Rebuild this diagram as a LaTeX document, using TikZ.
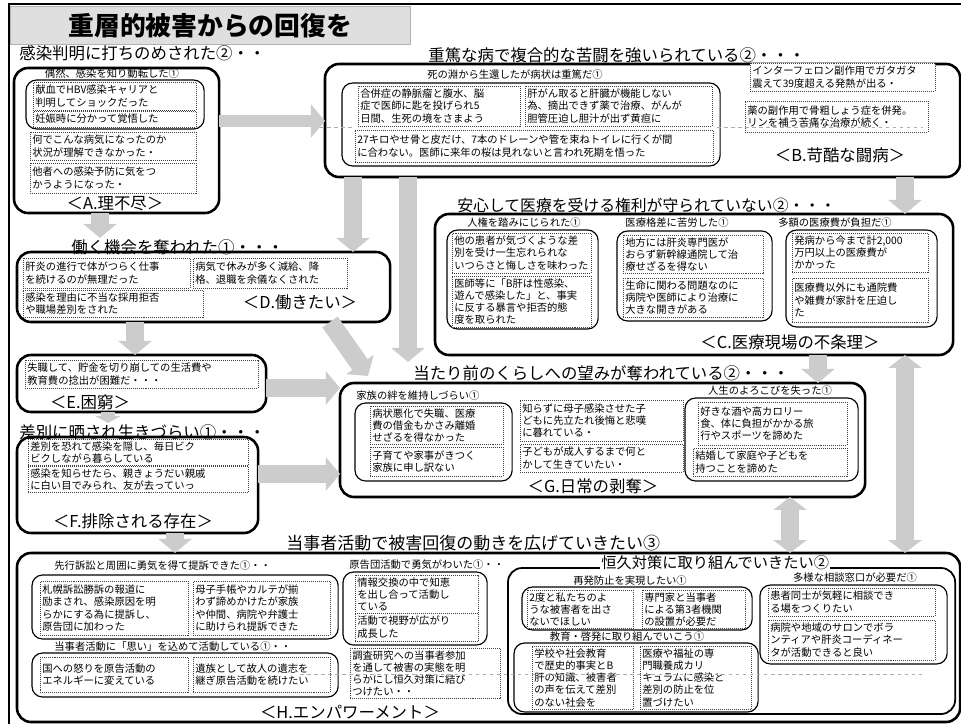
\documentclass[tikz,border=0pt]{standalone}
\usepackage{fontspec}
\setmainfont{Noto Sans CJK JP}
\usetikzlibrary{arrows.meta}

\newcommand{\txtsize}{\fontsize{8.8}{10.5}\selectfont}
\newcommand{\hdsize}{\fontsize{14}{16}\selectfont}
\newcommand{\lbsize}{\fontsize{14}{16}\selectfont}

% box from (x1,y1) to (x2,y2), pixel units
\newcommand{\pbox}[7]{%
  \pgfmathsetlengthmacro{\pbw}{(#5-#3)*0.03cm}%
  \pgfmathsetlengthmacro{\pbh}{(#6-#4)*0.03cm}%
  \pgfmathsetlengthmacro{\pbt}{(#5-#3)*0.03cm-4pt}%
  \node[#1, anchor=north west, minimum width=\pbw, minimum height=\pbh, text width=\pbt] (#2) at (#3,#4) {#7};}

\begin{document}
\begin{tikzpicture}[x=0.03cm, y=-0.03cm,
  bigbox/.style={draw, line width=2.2pt, rounded corners=12pt, fill=white, outer sep=0pt},
  kbox/.style={draw, line width=1.5pt, rounded corners=12pt, outer sep=0pt},
  inbox/.style={draw, line width=1pt, rounded corners=9pt, outer sep=0pt},
  dotbox/.style={draw=black!75, densely dotted, line width=0.7pt, fill=white, font=\txtsize, align=left, inner sep=2pt, outer sep=0pt},
  titlebox/.style={draw=gray!60, fill=gray!25, align=center, inner sep=0pt, font=\fontsize{22}{24}\selectfont\bfseries},
  headtxt/.style={anchor=west, font=\hdsize, inner sep=1pt},
  subtxt/.style={font=\txtsize, inner sep=1pt},
  tagtxt/.style={font=\lbsize, inner sep=1pt},
  blkarrow/.style={gray!40, line width=16pt, -{Triangle[length=12pt, width=28pt]}},
  blkboth/.style={gray!40, line width=16pt, {Triangle[length=11pt, width=28pt]}-{Triangle[length=11pt, width=28pt]}},
  ghost/.style={gray!65, dashed, line width=0.5pt}]

\useasboundingbox (0,0) rectangle (961,724);

% frame and title
\draw[line width=1pt] (9,724) -- (9,4) -- (961,4);
\pbox{titlebox}{title}{10}{6}{410}{44}{重層的被害からの回復を}

% big frames
\pbox{bigbox}{boxA}{14}{68}{216}{213}{}
\pbox{bigbox}{boxB}{325}{64}{957}{177}{}
\pbox{bigbox}{boxC}{435}{214}{950}{355}{}
\pbox{bigbox}{boxD}{17}{252}{387}{322}{}
\pbox{bigbox}{boxE}{17}{355}{263}{412}{}
\pbox{bigbox}{boxF}{17}{437}{255}{533}{}
\pbox{bigbox}{boxG}{340}{383}{862}{497}{}
\pbox{bigbox}{boxH}{17}{553}{957}{722}{}

% rounded groups
\pbox{inbox}{inA}{26}{80}{201}{129}{}
\pbox{inbox}{inB}{342}{83}{717}{166}{}
\pbox{inbox}{inC1}{447}{230}{595}{329}{}
\pbox{inbox}{inC2}{617}{231}{769}{321}{}
\pbox{inbox}{inC3}{786}{230}{934}{327}{}
\pbox{inbox}{inG1}{355}{403}{509}{481}{}
\pbox{inbox}{inG3}{685}{398}{855}{481}{}
\pbox{inbox}{inH1}{32}{575}{335}{639}{}
\pbox{inbox}{inH2}{32}{653}{335}{697}{}
\pbox{inbox}{inH3}{343}{572}{484}{645}{}
\pbox{kbox}{boxK}{508}{568}{952}{714}{}
\pbox{inbox}{inK1}{522}{587}{749}{630}{}
\pbox{inbox}{inK2}{514}{643}{755}{712}{}
\pbox{inbox}{inK3}{760}{585}{944}{664}{}

% A
\pbox{dotbox}{a1}{33}{82}{196}{110}{献血でHBV感染キャリアと\\判明してショックだった}
\pbox{dotbox}{a2}{33}{111}{196}{127}{妊娠時に分かって覚悟した}
\pbox{dotbox}{a3}{30}{132}{196}{160}{何でこんな病気になったのか\\状況が理解できなかった・}
\pbox{dotbox}{a4}{30}{163}{196}{193}{他者への感染予防に気をつ\\かうようになった・}

% B
\pbox{dotbox}{b1}{358}{86}{520}{126}{合併症の静脈瘤と腹水、脳\\症で医師に匙を投げられ5\\日間、生死の境をさまよう}
\pbox{dotbox}{b2}{525}{86}{712}{126}{肝がん取ると肝臓が機能しない\\為、摘出できず薬で治療、がんが\\胆管圧迫し胆汁が出ず黄疸に}
\pbox{dotbox}{b3}{355}{130}{713}{162}{27キロやせ骨と皮だけ、7本のドレーンや管を束ねトイレに行くが間\\に合わない。医師に来年の桜は見れないと言われ死期を悟った}
\pbox{dotbox}{b4}{750}{63}{935}{91}{インターフェロン副作用でガタガタ\\震えて39度超える発熱が出る・}
\pbox{dotbox}{b5}{745}{101}{928}{132}{薬の副作用で骨粗しょう症を併発。\\リンを補う苦痛な治療が続く・}

% C
\pbox{dotbox}{c1}{452}{233}{591}{273}{他の患者が気づくような差\\別を受け一生忘れられな\\いつらさと悔しさを味わった}
\pbox{dotbox}{c2}{452}{276}{591}{325}{医師等に「B肝は性感染、\\遊んで感染した」と、事実\\に反する暴言や拒否的態\\度を取られた}
\pbox{dotbox}{c3}{623}{235}{763}{273}{地方には肝炎専門医が\\おらず新幹線通院して治\\療せざるを得ない}
\pbox{dotbox}{c4}{623}{278}{763}{317}{生命に関わる問題なのに\\病院や医師により治療に\\大きな開きがある}
\pbox{dotbox}{c5}{792}{233}{928}{272}{発病から今まで計2,000\\万円以上の医療費が\\かかった}
\pbox{dotbox}{c6}{792}{278}{928}{322}{医療費以外にも通院費\\や雑費が家計を圧迫し\\た}

% D, E, F
\pbox{dotbox}{d1}{23}{258}{190}{288}{肝炎の進行で体がつらく仕事\\を続けるのが無理だった}
\pbox{dotbox}{d2}{193}{258}{347}{288}{病気で休みが多く減給、降\\格、退職を余儀なくされた}
\pbox{dotbox}{d3}{23}{290}{203}{317}{感染を理由に不当な採用拒否\\や職場差別をされた}
\pbox{dotbox}{e1}{25}{360}{258}{388}{失職して、貯金を切り崩しての生活費や\\教育費の捻出が困難だ・・・}
\pbox{dotbox}{f1}{28}{439}{248}{464}{差別を恐れて感染を隠し、毎日ビク\\ビクしながら暮らしている}
\pbox{dotbox}{f2}{28}{466}{248}{491}{感染を知らせたら、親きょうだい親戚\\に白い目でみられ、友が去っていっ}

% G
\pbox{dotbox}{g1}{370}{406}{503}{444}{病状悪化で失職、医療\\費の借金もかさみ離婚\\せざるを得なかった}
\pbox{dotbox}{g2}{370}{447}{503}{476}{子育てや家事がきつく\\家族に申し訳ない}
\pbox{dotbox}{g3}{520}{400}{683}{441}{知らずに母子感染させた子\\どもに先立たれ後悔と悲嘆\\に暮れている・}
\pbox{dotbox}{g4}{520}{444}{683}{472}{子どもが成人するまで何と\\かして生きていたい・}
\pbox{dotbox}{g5}{698}{402}{847}{445}{好きな酒や高カロリー\\食、体に負担がかかる旅\\行やスポーツを諦めた}
\pbox{dotbox}{g6}{693}{448}{847}{476}{結婚して家庭や子どもを\\持つことを諦めた}

% H
\pbox{dotbox}{h1}{40}{581}{188}{635}{札幌訴訟勝訴の報道に\\励まされ、感染原因を明\\らかにする為に提訴し、\\原告団に加わった}
\pbox{dotbox}{h2}{193}{581}{330}{635}{母子手帳やカルテが揃\\わず諦めかけたが家族\\や仲間、病院や弁護士\\に助けられ提訴できた}
\pbox{dotbox}{h3}{40}{657}{188}{692}{国への怒りを原告活動の\\エネルギーに変えている}
\pbox{dotbox}{h4}{193}{657}{330}{692}{遺族として故人の遺志を\\継ぎ原告活動を続けたい}
\pbox{dotbox}{h5}{355}{575}{478}{611}{情報交換の中で知恵\\を出し合って活動し\\ている}
\pbox{dotbox}{h6}{355}{613}{478}{641}{活動で視野が広がり\\成長した}
\pbox{dotbox}{h7}{350}{648}{500}{698}{調査研究への当事者参加\\を通して被害の実態を明\\らかにし恒久対策に結び\\つけたい・・}
\pbox{dotbox}{k1}{527}{590}{633}{627}{2度と私たちのよ\\うな被害者を出さ\\ないでほしい}
\pbox{dotbox}{k2}{642}{590}{745}{627}{専門家と当事者\\による第3者機関\\の設置が必要だ}
\pbox{dotbox}{k3}{532}{646}{633}{708}{学校や社会教育\\で歴史的事実とB\\肝の知識、被害者\\の声を伝えて差別\\のない社会を}
\pbox{dotbox}{k4}{640}{646}{751}{708}{医療や福祉の専\\門職養成カリ\\キュラムに感染と\\差別の防止を位\\置づけたい}
\pbox{dotbox}{k5}{768}{588}{935}{616}{患者同士が気軽に相談でき\\る場をつくりたい}
\pbox{dotbox}{k6}{768}{620}{935}{660}{病院や地域のサロンでボラ\\ンティアや肝炎コーディネー\\タが活動できると良い}

% headings
\node[headtxt] (headA) at (18,53) {感染判明に打ちのめされた②・・};
\node[headtxt] (headB) at (427,55) {重篤な病で複合的な苦闘を強いられている②・・・};
\node[headtxt, font=\fontsize{13.5}{15}\selectfont] (headC) at (456,205) {安心して医療を受ける権利が守られていない②・・・};
\node[headtxt] (headD) at (70,247) {働く機会を奪われた①・・・};
\node[headtxt] (headF) at (18,432) {差別に晒され生きづらい①・・・};
\node[headtxt] (headG) at (412,373) {当たり前のくらしへの望みが奪われている②・・・};
\node[headtxt, font=\fontsize{14.5}{16}\selectfont] (headH) at (285,543) {当事者活動で被害回復の動きを広げていきたい③};
\node[headtxt, fill=white, font=\fontsize{13}{15}\selectfont] (headK) at (600,563) {恒久対策に取り組んでいきたい②};

% small headings
\node[subtxt] (subA) at (112,74) {偶然、感染を知り動転した①};
\node[subtxt] (subB) at (515,75) {死の淵から生還したが病状は重篤だ①};
\node[subtxt] (subC1) at (524,223) {人権を踏みにじられた①};
\node[subtxt] (subC2) at (677,223) {医療格差に苦労した①};
\node[subtxt] (subC3) at (835,223) {多額の医療費が負担だ①};
\node[subtxt, anchor=west] (subG1) at (355,396) {家族の絆を維持しづらい①};
\node[subtxt] (subG3) at (770,391) {人生のよろこびを失った①};
\node[subtxt, anchor=west] (subH1) at (53,566) {先行訴訟と周囲に勇気を得て提訴できた①・・};
\node[subtxt, anchor=west] (subH2) at (53,647) {当事者活動に「思い」を込めて活動している①・・};
\node[subtxt, anchor=west] (subH3) at (348,565) {原告団活動で勇気がわいた①・・};
\node[subtxt] (subK1) at (630,581) {再発防止を実現したい①};
\node[subtxt] (subK2) at (627,637) {教育・啓発に取り組んでいこう①};
\node[subtxt] (subK3) at (855,578) {多様な相談窓口が必要だ①};

% category tags
\node[tagtxt] (tagA) at (115,204) {＜A.理不尽＞};
\node[tagtxt] (tagB) at (840,155) {＜B.苛酷な闘病＞};
\node[tagtxt] (tagC) at (790,342) {＜C.医療現場の不条理＞};
\node[tagtxt] (tagD) at (300,302) {＜D.働きたい＞};
\node[tagtxt] (tagE) at (90,402) {＜E.困窮＞};
\node[tagtxt] (tagF) at (133,521) {＜F.排除される存在＞};
\node[tagtxt] (tagG) at (593,486) {＜G.日常の剥奪＞};
\node[tagtxt] (tagH) at (350,712) {＜H.エンパワーメント＞};

% leftover guide lines
\draw[ghost] (320,127) -- (355,127);
\draw[ghost] (717,127) -- (923,127);
\draw[ghost] (300,674) -- (925,674);

% arrows
\coordinate (gin) at (408,362);
\coordinate (dg) at (368,376);
\draw[blkarrow, line width=11pt] (boxA.east |- 0,121) -- (boxB.west |- 0,121);
\draw[blkarrow] (boxA.south -| 100,0) -- (headD.north -| 100,0);
\draw[blkarrow] (boxB.south -| 353,0) -- (boxD.north -| 353,0);
\draw[blkarrow] (boxB.south -| 408,0) -- (gin);
\draw[blkarrow] (boxB.south -| 905,0) -- (boxC.north -| 905,0);
\draw[blkarrow] (boxD.south -| 135,0) -- (boxE.north -| 135,0);
\draw[blkarrow] (boxD.south -| 330,0) -- (dg);
\draw[blkarrow] (boxE.east |- 0,388) -- (boxG.west |- 0,388);
\draw[blkarrow, line width=12pt, -{Triangle[length=6pt, width=22pt]}] (boxE.south -| 108,0) -- (headF.north -| 108,0);
\draw[blkarrow] (boxF.east |- 0,474) -- (boxG.west |- 0,474);
\draw[blkarrow] (boxF.south -| 175,0) -- (boxH.north -| 175,0);
\draw[blkarrow] (boxC.south -| 818,0) -- (boxG.north -| 818,0);
\draw[blkboth] (boxG.south -| 790,0) -- (boxH.north -| 790,0);
\draw[blkboth] (boxC.south -| 905,0) -- (boxH.north -| 905,0);
\end{tikzpicture}
\end{document}
